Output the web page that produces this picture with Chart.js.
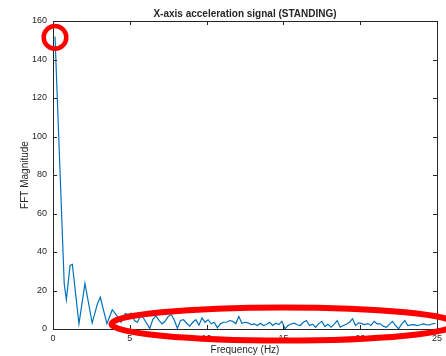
<!DOCTYPE html>
<html>
<head>
<meta charset="utf-8">
<script src="https://cdn.jsdelivr.net/npm/chart.js@4.4.1/dist/chart.umd.min.js"></script>
<style>
  html, body { margin: 0; padding: 0; background: #ffffff; }
  canvas { display: block; }
</style>
</head>
<body>
<canvas id="fftChart" width="446" height="356"></canvas>
<script>
// single-sided FFT magnitude of the x-axis accelerometer signal
var freqHz = [
  0.13, 0.73, 0.87, 1.11, 1.26, 1.69, 2.08, 2.55, 2.89, 3.08, 3.51, 3.86, 4.15, 4.43,
  4.7, 4.9, 5.1, 5.3, 5.5, 5.7, 5.9, 6.1, 6.3, 6.5, 6.7, 6.9, 7.1, 7.3, 7.5, 7.7, 7.9,
  8.1, 8.3, 8.5, 8.7, 8.9, 9.1, 9.3, 9.5, 9.7, 9.9, 10.1, 10.3, 10.5, 10.7, 10.9,
  11.1, 11.3, 11.5, 11.7, 11.9, 12.1, 12.3, 12.5, 12.7, 12.9, 13.1, 13.3, 13.5, 13.7,
  13.9, 14.1, 14.3, 14.5, 14.7, 14.9, 15.1, 15.3, 15.5, 15.7, 15.9, 16.1, 16.3, 16.5,
  16.7, 16.9, 17.1, 17.3, 17.5, 17.7, 17.9, 18.1, 18.3, 18.5, 18.7, 18.9, 19.1, 19.3,
  19.5, 19.7, 19.9, 20.1, 20.3, 20.5, 20.7, 20.9, 21.1, 21.3, 21.5, 21.7, 21.9, 22.1,
  22.3, 22.5, 22.7, 22.9, 23.1, 23.3, 23.5, 23.7, 23.9, 24.1, 24.3, 24.5, 24.7, 24.9
];
var fftMag = [
  152, 23.5, 15.2, 33, 33.6, 2.7, 23.7, 3.2, 13, 16.5, 2.7, 10, 7, 3.5,
  8, 7.5, 8.2, 4.4, 3.5, 7, 5.5, 3, 0.3, 5, 6.8, 4.5, 2.7, 4, 6.5, 7.5, 4.5,
  0.3, 4.4, 4.8, 3, 1.5, 3.5, 4.8, 2, 5.8, 3.5, 4.8, 2.7, 3.5, 0.6, 2.7,
  3.5, 3.5, 4.4, 4, 2.7, 6.5, 3, 3.5, 3.2, 2.3, 2.7, 1.8, 3, 1.8,
  2.3, 3.5, 1.8, 3, 2.3, 4, 0.1, 1.8, 2.6, 3, 2.2, 1.8, 3.5, 4.4,
  1.8, 2.5, 0.9, 2.8, 4, 1.3, 2.5, 0.9, 2.4, 4.4, 0.9, 1.8, 2.5, 3.5,
  5.3, 1.8, 3.2, 2.8, 2.3, 2.8, 1.8, 4, 2.7, 2.7, 1.5, 0.9, 2.4, 4,
  1.8, 0.1, 2.5, 4.4, 1.8, 2.1, 2.3, 1.8, 2.2, 2.7, 2.3, 2.1, 2.7, 3
];
var xTicks = [0, 5, 10, 15, 20, 25];
var yTicks = [0, 20, 40, 60, 80, 100, 120, 140, 160];

var axisColor = "#262626";
var fontFamily = "'Liberation Sans', Arial, Helvetica, sans-serif";

var points = freqHz.map(function (f, i) {
  return { x: f, y: fftMag[i] };
});

// box, inward ticks, titles and the red highlight marks
var decorPlugin = {
  id: "decor",
  afterDraw: function (chart) {
    var ctx = chart.ctx;
    var a = chart.chartArea;
    var xs = chart.scales.x;
    var ys = chart.scales.y;
    var tick = 4;
    ctx.save();
    ctx.strokeStyle = axisColor;
    ctx.lineWidth = 1;
    ctx.beginPath();
    ctx.rect(Math.round(a.left) + 0.5, Math.round(a.top) + 0.5,
      Math.round(a.right - a.left), Math.round(a.bottom - a.top));
    xTicks.forEach(function (v) {
      var px = Math.round(xs.getPixelForValue(v)) + 0.5;
      ctx.moveTo(px, a.bottom);
      ctx.lineTo(px, a.bottom - tick);
      ctx.moveTo(px, a.top);
      ctx.lineTo(px, a.top + tick);
    });
    yTicks.forEach(function (v) {
      var py = Math.round(ys.getPixelForValue(v)) + 0.5;
      ctx.moveTo(a.left, py);
      ctx.lineTo(a.left + tick, py);
      ctx.moveTo(a.right, py);
      ctx.lineTo(a.right - tick, py);
    });
    ctx.stroke();

    ctx.fillStyle = axisColor;
    ctx.textAlign = "center";
    ctx.textBaseline = "alphabetic";
    var midX = (a.left + a.right) / 2;
    ctx.font = "bold 10px " + fontFamily;
    ctx.fillText("X-axis acceleration signal (STANDING)", midX, 17);
    ctx.font = "10px " + fontFamily;
    ctx.fillText("Frequency (Hz)", midX, 352.5);
    ctx.save();
    ctx.translate(28, (a.top + a.bottom) / 2);
    ctx.rotate(-Math.PI / 2);
    ctx.fillText("FFT Magnitude", 0, 0);
    ctx.restore();

    // red marks: the DC peak and the noise floor
    ctx.strokeStyle = "#ff0000";
    ctx.lineWidth = 4.5;
    ctx.beginPath();
    ctx.arc(xs.getPixelForValue(freqHz[0]), ys.getPixelForValue(fftMag[0]) + 1, 11.3, 0, Math.PI * 2);
    ctx.stroke();
    ctx.lineWidth = 6;
    ctx.beginPath();
    ctx.ellipse(xs.getPixelForValue(15.0), ys.getPixelForValue(2.6), 172, 16.5, 0, 0, Math.PI * 2);
    ctx.stroke();
    ctx.restore();
  }
};

new Chart(document.getElementById("fftChart"), {
  type: "line",
  data: {
    datasets: [
      {
        label: "FFT Magnitude",
        data: points,
        borderColor: "#0072BD",
        borderWidth: 1.2,
        pointRadius: 0,
        tension: 0,
        fill: false
      }
    ]
  },
  options: {
    responsive: false,
    animation: false,
    devicePixelRatio: 1,
    layout: {
      padding: { left: 0, right: 3, top: 21, bottom: 0 }
    },
    plugins: {
      legend: { display: false },
      title: { display: false },
      tooltip: { enabled: false }
    },
    scales: {
      x: {
        type: "linear",
        min: 0,
        max: 25,
        afterFit: function (scale) { scale.height = 27; },
        afterBuildTicks: function (scale) {
          scale.ticks = xTicks.map(function (v) { return { value: v }; });
        },
        grid: { display: false, drawTicks: false, tickLength: 0 },
        border: { display: false },
        ticks: {
          padding: 4,
          color: axisColor,
          maxRotation: 0,
          font: { family: fontFamily, size: 9 }
        }
      },
      y: {
        type: "linear",
        min: 0,
        max: 160,
        afterFit: function (scale) { scale.width = 53; },
        afterBuildTicks: function (scale) {
          scale.ticks = yTicks.map(function (v) { return { value: v }; });
        },
        grid: { display: false, drawTicks: false, tickLength: 0 },
        border: { display: false },
        ticks: {
          padding: 6,
          color: axisColor,
          font: { family: fontFamily, size: 9 }
        }
      }
    }
  },
  plugins: [decorPlugin]
});
</script>
</body>
</html>
